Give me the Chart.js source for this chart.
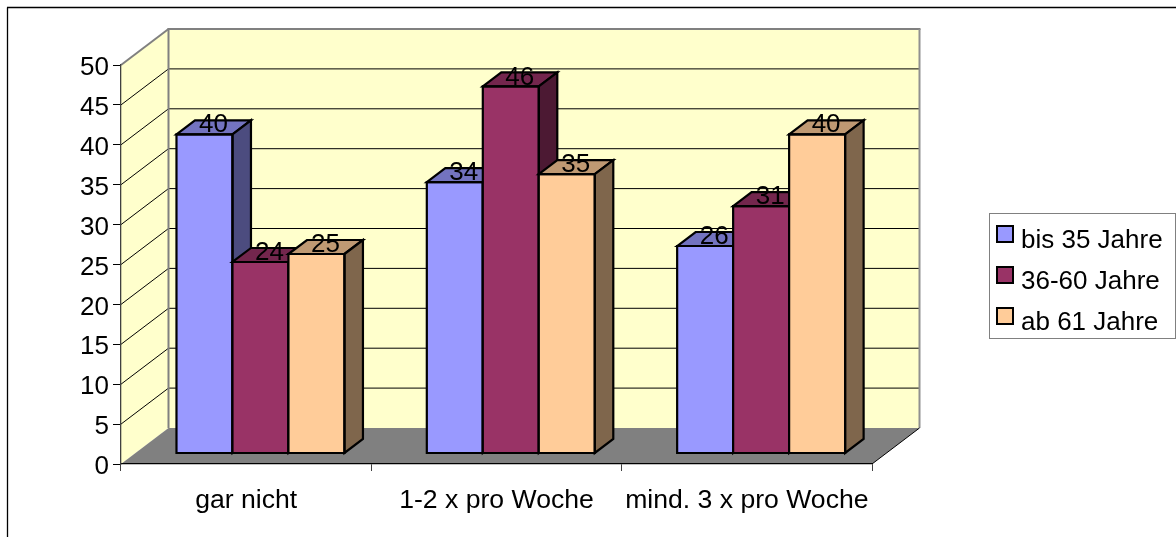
<!DOCTYPE html>
<html>
<head>
<meta charset="utf-8">
<style>html,body{margin:0;padding:0;background:#fff}canvas{display:block}</style>
<script src="https://cdn.jsdelivr.net/npm/chart.js@4/dist/chart.umd.min.js"></script>
</head>
<body>
<canvas id="c" width="1176" height="537"></canvas>
<script>
const categories = ['gar nicht', '1-2 x pro Woche', 'mind. 3 x pro Woche'];
const seriesNames = ['bis 35 Jahre', '36-60 Jahre', 'ab 61 Jahre'];
const young = [40, 34, 26];
const middle = [24, 46, 31];
const older = [25, 35, 40];
const frontColors = ['#9999FF', '#993366', '#FFCC99'];
const topColors = ['#7373BF', '#73264D', '#BF9973'];
const sideColors = ['#4C4C7F', '#4C1933', '#7F664C'];
const FONT = '"Liberation Sans", Arial, sans-serif';
const FS = 26;
const FSX = 26.6;
const WALL = {dx: 47.5, dy: -36};
const BAR = {shiftX: 14.3, shiftY: -10.5, dx: 18.5, dy: -14};
const LEG = {x: 989.5, y: 213.5, w: 186, h: 125, sw: 16, swX: 997, swY: [226, 267, 308], textX: 1021};

function poly(ctx, pts, fill, stroke, lw) {
  ctx.beginPath();
  pts.forEach((p, i) => i ? ctx.lineTo(p[0], p[1]) : ctx.moveTo(p[0], p[1]));
  ctx.closePath();
  if (fill) { ctx.fillStyle = fill; ctx.fill(); }
  if (stroke) { ctx.strokeStyle = stroke; ctx.lineWidth = lw; ctx.lineJoin = 'miter'; ctx.stroke(); }
}
function seg(ctx, a, b, color, lw) {
  ctx.beginPath(); ctx.moveTo(a[0], a[1]); ctx.lineTo(b[0], b[1]);
  ctx.strokeStyle = color; ctx.lineWidth = lw; ctx.stroke();
}

const scene = {
  id: 'scene',
  beforeDraw(chart) {
    const {ctx, chartArea: a, scales: {y}} = chart;
    const L = a.left, R = a.right, T = y.getPixelForValue(50), B = y.getPixelForValue(0);
    const d = WALL;
    ctx.save();
    seg(ctx, [7.5, 537], [7.5, 7.5], '#000', 1.3);
    seg(ctx, [7, 7.5], [1176, 7.5], '#000', 1.3);
    poly(ctx, [[L, B], [L, T], [L + d.dx, T + d.dy], [L + d.dx, B + d.dy]], '#FFFFCC');
    poly(ctx, [[L + d.dx, T + d.dy], [R + d.dx, T + d.dy], [R + d.dx, B + d.dy], [L + d.dx, B + d.dy]], '#FFFFCC');
    poly(ctx, [[L, B], [L + d.dx, B + d.dy], [R + d.dx, B + d.dy], [R, B]], '#808080');
    y.ticks.forEach(t => {
      if (t.value === 0 || t.value === 50) return;
      const p = y.getPixelForValue(t.value);
      seg(ctx, [L, p], [L + d.dx, p + d.dy], '#000', 1);
      seg(ctx, [L + d.dx, p + d.dy], [R + d.dx, p + d.dy], '#000', 1);
    });
    seg(ctx, [L, T], [L + d.dx, T + d.dy], '#808080', 2);
    seg(ctx, [L + d.dx - 1, T + d.dy], [R + d.dx + 1, T + d.dy], '#808080', 2);
    seg(ctx, [L + d.dx, T + d.dy], [L + d.dx, B + d.dy], '#808080', 2);
    seg(ctx, [R + d.dx, T + d.dy], [R + d.dx, B + d.dy], '#909090', 2);
    seg(ctx, [R, B], [R + d.dx, B + d.dy], '#000', 1);
    ctx.restore();
  },
  // Bars are painted first series first, so each later bar covers the side of the one before it.
  beforeDatasetDraw() { return false; },
  beforeDatasetsDraw(chart) {
    const ctx = chart.ctx, d = BAR;
    chart.data.datasets.forEach((ds, i) => {
      const meta = chart.getDatasetMeta(i);
      ctx.save();
      ctx.translate(d.shiftX, d.shiftY);
      meta.controller.draw();
      meta.data.forEach(el => {
        const p = el.getProps(['x', 'y', 'base', 'width'], true);
        const l = p.x - p.width / 2, r = p.x + p.width / 2, t = p.y, b = p.base;
        poly(ctx, [[l, t], [l + d.dx, t + d.dy], [r + d.dx, t + d.dy], [r, t]], topColors[i], '#000', 2.2);
        poly(ctx, [[r, t], [r + d.dx, t + d.dy], [r + d.dx, b + d.dy], [r, b]], sideColors[i], '#000', 2.2);
        poly(ctx, [[l, t], [r, t], [r, b], [l, b]], null, '#000', 2.2);
      });
      ctx.restore();
    });
  },
  afterDatasetsDraw(chart) {
    const ctx = chart.ctx;
    ctx.save();
    ctx.font = FS + 'px ' + FONT;
    ctx.fillStyle = '#000';
    ctx.textAlign = 'center';
    ctx.textBaseline = 'middle';
    chart.data.datasets.forEach((ds, i) => {
      chart.getDatasetMeta(i).data.forEach((el, j) => {
        ctx.fillText(String(ds.data[j]), el.x + BAR.shiftX + 9, el.y + BAR.shiftY - 9);
      });
    });
    ctx.restore();
  },
  afterDraw(chart) {
    const ctx = chart.ctx;
    ctx.save();
    ctx.fillStyle = '#fff';
    ctx.fillRect(LEG.x, LEG.y, LEG.w, LEG.h);
    ctx.strokeStyle = '#808080';
    ctx.lineWidth = 1;
    ctx.strokeRect(LEG.x, LEG.y, LEG.w, LEG.h);
    ctx.font = FS + 'px ' + FONT;
    ctx.textAlign = 'left';
    ctx.textBaseline = 'middle';
    chart.data.datasets.forEach((ds, i) => {
      ctx.fillStyle = frontColors[i];
      ctx.strokeStyle = '#000';
      ctx.lineWidth = 2;
      ctx.fillRect(LEG.swX, LEG.swY[i], LEG.sw, LEG.sw);
      ctx.strokeRect(LEG.swX, LEG.swY[i], LEG.sw, LEG.sw);
      ctx.fillStyle = '#000';
      ctx.fillText(ds.label, LEG.textX, LEG.swY[i] + 15);
    });
    ctx.restore();
  }
};

const values = [young, middle, older];
new Chart(document.getElementById('c'), {
  type: 'bar',
  data: {
    labels: categories,
    datasets: seriesNames.map((name, i) => ({
      label: name,
      data: values[i],
      backgroundColor: frontColors[i],
      borderWidth: 0,
      categoryPercentage: 0.671,
      barPercentage: 1
    }))
  },
  plugins: [scene],
  options: {
    responsive: false,
    animation: false,
    devicePixelRatio: 1,
    layout: {padding: {left: 0, top: 65, right: 304, bottom: 0}},
    plugins: {legend: {display: false}, title: {display: false}, tooltip: {enabled: false}},
    scales: {
      x: {
        afterFit(s) { s.height = 73; },
        grid: {drawOnChartArea: false, color: '#404040', tickLength: 7, offset: true},
        border: {color: '#000', width: 1.3},
        ticks: {color: '#000', font: {family: FONT, size: FSX}, padding: 14, maxRotation: 0, autoSkip: false}
      },
      y: {
        min: 0, max: 50,
        afterFit(s) { s.width = 121; },
        grid: {drawOnChartArea: false, color: '#000', tickLength: 8},
        border: {color: '#404040', width: 1.3},
        ticks: {stepSize: 5, color: '#000', font: {family: FONT, size: FS}, padding: 4, labelOffset: 3}
      }
    }
  }
});
</script>
</body>
</html>
